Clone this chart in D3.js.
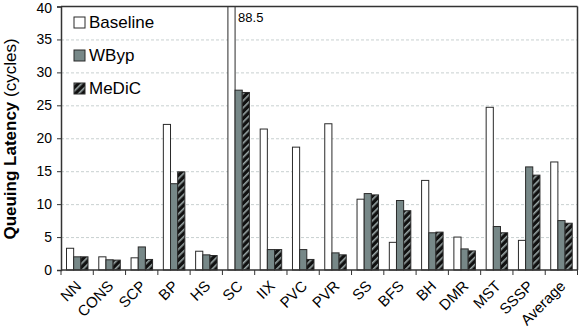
<!DOCTYPE html>
<html>
<head>
<meta charset="utf-8">
<script src="https://cdn.jsdelivr.net/npm/d3@7"></script>
<style>
  body { margin: 0; background: #fff; }
  text { font-family: "Liberation Sans", Arial, sans-serif; fill: #000; }
</style>
</head>
<body>
<div id="chart"></div>
<script>
const categories = ["NN", "CONS", "SCP", "BP", "HS", "SC", "IIX", "PVC", "PVR", "SS", "BFS", "BH", "DMR", "MST", "SSSP", "Average"];
const series = ["Baseline", "WByp", "MeDiC"];
const baseline = [3.3, 2.0, 1.85, 22.1, 2.85, 88.5, 21.4, 18.65, 22.2, 10.75, 4.2, 13.6, 5.0, 24.7, 4.5, 16.4];
const wbyp = [2.0, 1.55, 3.5, 13.1, 2.3, 27.3, 3.1, 3.1, 2.6, 11.6, 10.55, 5.65, 3.2, 6.6, 15.65, 7.5];
const medic = [2.0, 1.5, 1.6, 14.9, 2.2, 26.95, 3.1, 1.6, 2.3, 11.4, 9.0, 5.75, 2.9, 5.65, 14.4, 7.1];
const yTicks = [0, 5, 10, 15, 20, 25, 30, 35, 40];

const width = 582,
    height = 331,
    m = { left: 61, right: 4.5, top: 6.5, bottom: 61 };

const values = [baseline, wbyp, medic];
const fills = ["#ffffff", "#778888", "url(#hatch)"];

const svg = d3.select("#chart").append("svg")
    .attr("width", width)
    .attr("height", height);

// hatch pattern for MeDiC
const pat = svg.append("defs").append("pattern")
    .attr("id", "hatch")
    .attr("patternUnits", "userSpaceOnUse")
    .attr("width", 5)
    .attr("height", 5)
    .attr("patternTransform", "rotate(45)");
pat.append("rect").attr("width", 5).attr("height", 5).attr("fill", "#111");
pat.append("rect").attr("x", 0).attr("width", 1.6).attr("height", 5).attr("fill", "#9aa6a6");

const x = d3.scaleBand()
    .domain(categories)
    .range([m.left, width - m.right]);

const xSub = d3.scaleBand()
    .domain(series)
    .range([5.5, 27]);

const y = d3.scaleLinear()
    .domain([0, 40])
    .range([height - m.bottom, m.top]);

// grid
svg.append("g")
  .selectAll("line")
    .data(yTicks.filter(function(d) { return d > 0 && d < 40; }))
  .enter().append("line")
    .attr("x1", m.left)
    .attr("x2", width - m.right)
    .attr("y1", function(d) { return y(d) + 0.5; })
    .attr("y2", function(d) { return y(d) + 0.5; })
    .attr("stroke", "#c8d0d0")
    .attr("stroke-dasharray", "3,2");

// bars
const groups = svg.append("g")
  .selectAll("g")
    .data(categories)
  .enter().append("g")
    .attr("transform", function(d) { return "translate(" + x(d) + ",0)"; });

groups.selectAll("rect")
    .data(function(d, i) { return series.map(function(s, j) { return { s: s, j: j, v: values[j][i] }; }); })
  .enter().append("rect")
    .attr("x", function(d) { return xSub(d.s); })
    .attr("width", xSub.bandwidth())
    .attr("y", function(d) { return y(Math.min(d.v, 40)); })
    .attr("height", function(d) { return y(0) - y(Math.min(d.v, 40)); })
    .attr("fill", function(d) { return fills[d.j]; })
    .attr("stroke", "#2a2a2a")
    .attr("stroke-width", 1);

// label for clipped bar
const scIdx = categories.indexOf("SC");
svg.append("text")
    .attr("x", x("SC") + xSub("Baseline") + xSub.bandwidth() + 3)
    .attr("y", y(40) + 15)
    .style("font-size", "13px")
    .text(baseline[scIdx]);

// frame
svg.append("line")
    .attr("x1", m.left).attr("x2", width - m.right)
    .attr("y1", m.top).attr("y2", m.top)
    .attr("stroke", "#333").attr("stroke-width", 1.5);
svg.append("line")
    .attr("x1", width - m.right).attr("x2", width - m.right)
    .attr("y1", m.top).attr("y2", y(0))
    .attr("stroke", "#333").attr("stroke-width", 1.5);

// y axis
const yAxis = svg.append("g")
    .attr("transform", "translate(" + m.left + ",0)")
    .call(d3.axisLeft(y).tickValues(yTicks).tickSize(4).tickPadding(5));
yAxis.select(".domain").attr("stroke", "#333").attr("stroke-width", 1.5);
yAxis.selectAll(".tick line").attr("stroke", "#333");
yAxis.selectAll("text")
    .style("font-size", "14px")
    .style("font-family", "Liberation Sans, Arial, sans-serif");
// keep top label inside the page
yAxis.selectAll(".tick")
  .filter(function(d) { return d === 40; })
  .select("text")
    .attr("dy", "0.45em");

// x axis
const xAxis = svg.append("g")
    .attr("transform", "translate(0," + y(0) + ")");
xAxis.append("line")
    .attr("x1", m.left).attr("x2", width - m.right)
    .attr("stroke", "#333").attr("stroke-width", 1.5);
xAxis.selectAll(".sep")
    .data(categories.concat(["_end"]))
  .enter().append("line")
    .attr("x1", function(d, i) { return m.left + i * x.step(); })
    .attr("x2", function(d, i) { return m.left + i * x.step(); })
    .attr("y1", 0).attr("y2", 5)
    .attr("stroke", "#333");
xAxis.selectAll(".lab")
    .data(categories)
  .enter().append("text")
    .attr("transform", function(d) {
      return "translate(" + (x(d) + x.bandwidth() / 2 + 5) + ",17) rotate(-45)";
    })
    .attr("text-anchor", "end")
    .style("font-size", "15px")
    .text(function(d) { return d; });

// y label
const yl = svg.append("text")
    .attr("transform", "translate(16," + 139 + ") rotate(-90)")
    .attr("text-anchor", "middle")
    .style("font-size", "17px");
yl.append("tspan").style("font-weight", "bold").text("Queuing Latency");
yl.append("tspan").text(" (cycles)");

// legend
const legend = svg.append("g")
  .selectAll("g")
    .data(series)
  .enter().append("g")
    .attr("transform", function(d, i) { return "translate(74," + (17 + i * 33) + ")"; });
legend.append("rect")
    .attr("width", 11)
    .attr("height", 11)
    .attr("fill", function(d, i) { return fills[i]; })
    .attr("stroke", "#2a2a2a");
legend.append("text")
    .attr("x", 15)
    .attr("y", 11)
    .style("font-size", "17px")
    .text(function(d) { return d; });
</script>
</body>
</html>
